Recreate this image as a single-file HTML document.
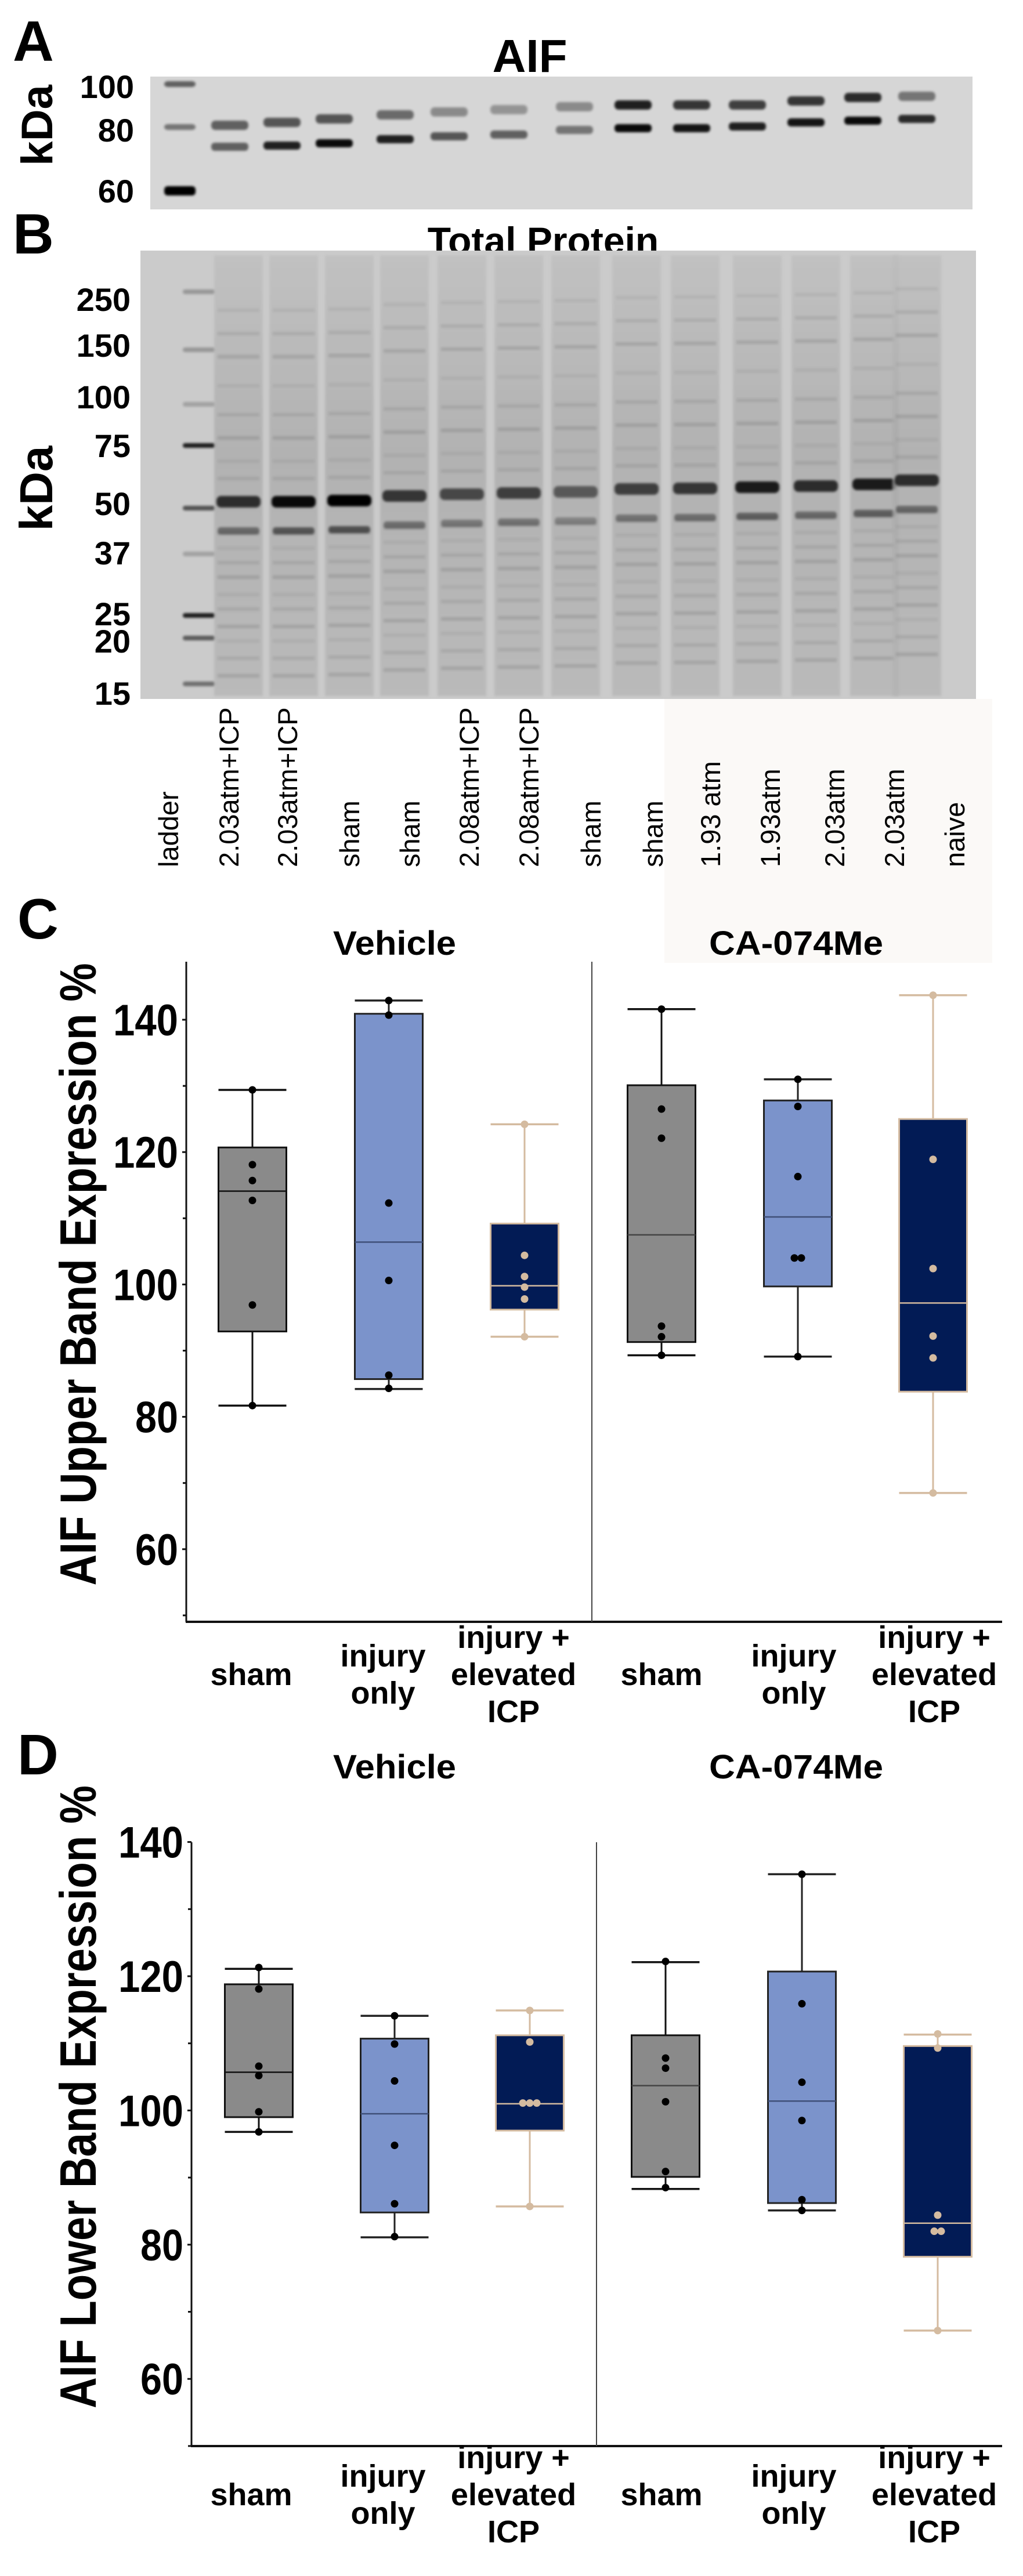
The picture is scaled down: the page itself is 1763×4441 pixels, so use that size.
<!DOCTYPE html>
<html><head><meta charset="utf-8">
<style>
html,body{margin:0;padding:0;background:#fff;}
svg{display:block;}
text{font-family:"Liberation Sans",Arial,sans-serif;}
</style></head>
<body>
<svg id="fig" width="1763" height="4441" viewBox="0 0 1763 4441" xmlns="http://www.w3.org/2000/svg">
<defs>
<filter id="blur3" x="-20%" y="-200%" width="140%" height="500%"><feGaussianBlur stdDeviation="4"/></filter>
<filter id="blur1" x="-20%" y="-200%" width="140%" height="500%"><feGaussianBlur stdDeviation="2"/></filter>
<linearGradient id="laneG" x1="0" y1="0" x2="0" y2="1">
<stop offset="0" stop-color="#bdbdbd"/><stop offset="0.45" stop-color="#a8a8a8"/><stop offset="1" stop-color="#b3b3b3"/></linearGradient>
</defs>
<rect x="0" y="0" width="1763" height="4441" fill="#fff"/>
<rect x="1145" y="1205" width="565" height="455" fill="#fbf9f7"/>

<text x="22" y="105" font-size="98" font-weight="bold">A</text>
<text x="913" y="124" font-size="80" font-weight="bold" text-anchor="middle">AIF</text>
<text transform="translate(90,216) rotate(-90)" font-size="76" font-weight="bold" text-anchor="middle">kDa</text>
<g id="blotA"></g>
<text x="231" y="169" font-size="56" font-weight="bold" text-anchor="end">100</text>
<text x="231" y="244" font-size="56" font-weight="bold" text-anchor="end">80</text>
<text x="231" y="349" font-size="56" font-weight="bold" text-anchor="end">60</text>

<text x="22" y="437" font-size="98" font-weight="bold">B</text>
<text x="936" y="438" font-size="66" font-weight="bold" text-anchor="middle">Total Protein</text>
<g id="blotB"></g>
<text transform="translate(90,842) rotate(-90)" font-size="80" font-weight="bold" text-anchor="middle">kDa</text>
<g id="blotBMarkers"></g>
<g id="laneLabels"></g>

<g id="chartC"></g>
<g id="chartD"></g>
</svg>

<script>
const categories = ['sham', 'injury only', 'injury + elevated ICP', 'sham', 'injury only', 'injury + elevated ICP'];
const groupHeaders = ['Vehicle', 'CA-074Me'];
const tickValues = [60, 80, 100, 120, 140];
const tickLabels = ['60', '80', '100', '120', '140'];
const minorTickValues = [50, 70, 90, 110, 130];

const cUpperWhisker = [129.4, 142.9, 124.2, 141.6, 131.0, 143.7];
const cQ3 = [120.7, 140.9, 109.2, 130.1, 127.8, 125.0];
const cMedian = [114.1, 106.4, 99.8, 107.5, 110.2, 97.2];
const cQ1 = [92.9, 85.7, 96.2, 91.3, 99.7, 83.8];
const cLowerWhisker = [81.7, 84.2, 92.1, 89.3, 89.1, 68.5];
const cPoints = [
  [129.4, 118.1, 115.7, 112.7, 96.9, 81.7],
  [142.9, 140.7, 112.3, 100.6, 86.3, 84.3],
  [124.2, 104.4, 101.2, 99.6, 97.8, 92.1],
  [141.6, 126.5, 122.1, 93.7, 92.1, 89.3],
  [131.0, 126.9, 116.3, 104.0, 104.0, 89.1],
  [143.7, 118.9, 102.4, 92.2, 88.9, 68.5]
];

const dUpperWhisker = [121.1, 114.1, 114.9, 122.1, 135.2, 111.3];
const dQ3 = [118.8, 110.7, 111.2, 111.2, 120.7, 109.6];
const dMedian = [105.7, 99.5, 101.0, 103.7, 101.4, 83.2];
const dQ1 = [99.0, 84.8, 97.0, 90.1, 86.2, 78.2];
const dLowerWhisker = [96.8, 81.1, 85.7, 88.3, 85.1, 67.2];
const dPoints = [
  [121.3, 118.1, 106.6, 105.2, 99.8, 96.8],
  [114.1, 109.9, 104.4, 94.8, 86.1, 81.2],
  [114.9, 110.2, 101.1, 101.1, 101.1, 85.7],
  [122.2, 107.8, 106.3, 101.3, 90.9, 88.5],
  [135.2, 115.9, 104.2, 98.5, 86.7, 85.1],
  [111.4, 109.3, 84.4, 82.0, 82.0, 67.2]
];

const NS = 'http://www.w3.org/2000/svg';
function mk(tag, attrs, parent) {
  const e = document.createElementNS(NS, tag);
  for (const k in attrs) e.setAttribute(k, attrs[k]);
  parent.appendChild(e);
  return e;
}
const fills = ['#8a8a8a', '#7b93cb', '#021b55', '#8a8a8a', '#7b93cb', '#021b55'];
const strokes = ['#111', '#222', '#d4bba0', '#111', '#222', '#d4bba0'];
const medianCols = ['#111', '#3f4f78', '#d4bba0', '#444', '#3f4f78', '#d4bba0'];
const dotCols = ['#000', '#000', '#d4bba0', '#000', '#000', '#d4bba0'];
const boxW = 117;

function drawChart(g, cfg) {
  const y = v => cfg.y0 + (cfg.v0 - v) * cfg.k;
  const xC = i => cfg.xs[i];
  let t = mk('text', {x: cfg.labelX, y: cfg.labelY, 'font-size': 98, 'font-weight': 'bold'}, g);
  
  
  t.textContent = cfg.label;
  groupHeaders.forEach((h, i) => {
    const e = mk('text', {x: cfg.headerX[i], y: cfg.headerY, 'font-size': 58, 'font-weight': 'bold', 'text-anchor': 'middle', textLength: i === 0 ? 212 : 300, lengthAdjust: 'spacingAndGlyphs'}, g);
    
    
    e.textContent = h;
  });
  const yt = mk('text', {transform: 'translate(' + cfg.titleX + ',' + cfg.titleY + ') rotate(-90)', 'font-size': 88, 'font-weight': 'bold', 'text-anchor': 'middle', textLength: cfg.titleLen, lengthAdjust: 'spacingAndGlyphs'}, g);
  
  
  yt.textContent = cfg.title;
  const ax = mk('line', {x1: cfg.axisX, x2: cfg.axisX, y1: cfg.axisTop, y2: cfg.axisBottom, stroke: '#111', 'stroke-width': 3}, g);
  
  
  const xa = mk('line', {x1: cfg.axisX - 1, x2: 1727, y1: cfg.axisBottom, y2: cfg.axisBottom, stroke: '#111', 'stroke-width': 4}, g);
  
  
  const dv = mk('line', {x1: cfg.divX, x2: cfg.divX, y1: cfg.axisTop, y2: cfg.axisBottom, stroke: '#444', 'stroke-width': 2}, g);
  
  
  tickValues.forEach((v, i) => {
    const tk = mk('line', {x1: cfg.axisX - 7, x2: cfg.axisX, y1: y(v), y2: y(v), stroke: '#111', 'stroke-width': 3}, g);
    
    
    const tl = mk('text', {x: cfg.axisX - 14, y: y(v) + 27, 'font-size': 76, 'font-weight': 'bold', 'text-anchor': 'end', textLength: tickLabels[i].length === 3 ? 112 : 74, lengthAdjust: 'spacingAndGlyphs'}, g);
    
    
    tl.textContent = tickLabels[i];
  });
  minorTickValues.forEach(v => {
    const tk = mk('line', {x1: cfg.axisX - 6, x2: cfg.axisX, y1: y(v), y2: y(v), stroke: '#111', 'stroke-width': 3}, g);
    
    
  });
  for (let i = 0; i < 6; i++) {
    const bg = mk('g', {}, g);
    
    
    const cx = xC(i), st = strokes[i];
    const hi = cfg.uw[i], lo = cfg.lw[i];
    mk('line', {x1: cx, x2: cx, y1: y(hi), y2: y(lo), stroke: st, 'stroke-width': 3}, bg);
    mk('line', {x1: cx - boxW / 2, x2: cx + boxW / 2, y1: y(hi), y2: y(hi), stroke: st, 'stroke-width': 3.5}, bg);
    mk('line', {x1: cx - boxW / 2, x2: cx + boxW / 2, y1: y(lo), y2: y(lo), stroke: st, 'stroke-width': 3.5}, bg);
    mk('rect', {x: cx - boxW / 2, y: y(cfg.q3[i]), width: boxW, height: y(cfg.q1[i]) - y(cfg.q3[i]), fill: fills[i], stroke: st, 'stroke-width': 3}, bg);
    mk('line', {x1: cx - boxW / 2, x2: cx + boxW / 2, y1: y(cfg.med[i]), y2: y(cfg.med[i]), stroke: medianCols[i], 'stroke-width': 2.5}, bg);
    const pts = cfg.pts[i];
    pts.forEach((v, j) => {
      const same = pts.filter(w => Math.abs(w - v) < 0.6);
      const idx = pts.slice(0, j).filter(w => Math.abs(w - v) < 0.6).length;
      const off = (idx - (same.length - 1) / 2) * 12;
      const d = mk('circle', {cx: cx + off, cy: y(v), r: 6.5, fill: dotCols[i]}, bg);
      
      
    });
  }
  categories.forEach((c, i) => {
    const lines = c === 'sham' ? ['sham'] : c === 'injury only' ? ['injury', 'only'] : ['injury +', 'elevated', 'ICP'];
    const startY = lines.length === 1 ? cfg.catY : lines.length === 2 ? cfg.catY - 32 : cfg.catY - 64;
    const tx = mk('text', {x: cfg.catX[i], y: startY + 19, 'font-size': 54, 'font-weight': 'bold', 'text-anchor': 'middle'}, g);
    
    
    lines.forEach((l, k) => {
      const ts = mk('tspan', {x: cfg.catX[i], dy: k === 0 ? 0 : 64}, tx);
      ts.textContent = l;
    });
  });
}

drawChart(document.getElementById('chartC'), {
  label: 'C', labelX: 30, labelY: 1618, headerX: [680, 1372], headerY: 1646,
  title: 'AIF Upper Band Expression %', titleX: 165, titleY: 2197, titleLen: 1073,
  axisX: 321, axisTop: 1658, axisBottom: 2796, divX: 1020,
  y0: 1758, v0: 140, k: 11.41,
  xs: [435, 670, 904, 1140, 1375, 1608],
  catX: [433, 660, 885, 1140, 1368, 1610], catY: 2886,
  uw: cUpperWhisker, q3: cQ3, med: cMedian, q1: cQ1, lw: cLowerWhisker, pts: cPoints
});
drawChart(document.getElementById('chartD'), {
  label: 'D', labelX: 30, labelY: 3059, headerX: [680, 1372], headerY: 3066,
  title: 'AIF Lower Band Expression %', titleX: 165, titleY: 3615, titleLen: 1074,
  axisX: 330, axisTop: 3176, axisBottom: 4217, divX: 1028,
  y0: 3407, v0: 120, k: 11.57,
  xs: [446, 680, 913, 1147, 1382, 1616],
  catX: [433, 660, 885, 1140, 1368, 1610], catY: 4300,
  uw: dUpperWhisker, q3: dQ3, med: dMedian, q1: dQ1, lw: dLowerWhisker, pts: dPoints
});

const blotALaneX = [396, 486, 576, 681, 774, 877, 990, 1091, 1192, 1288, 1389, 1487, 1580];
const blotAUpperY = [216, 211, 205, 198, 193, 189, 184, 181, 181, 181, 174, 168, 166];
const blotALowerY = [253, 251, 247, 240, 235, 232, 224, 221, 221, 218, 211, 208, 205];
const blotAUpperI = [0.55, 0.6, 0.6, 0.5, 0.35, 0.3, 0.35, 0.85, 0.75, 0.7, 0.75, 0.8, 0.45];
const blotALowerI = [0.55, 0.85, 0.95, 0.85, 0.6, 0.55, 0.45, 0.95, 0.9, 0.85, 0.9, 0.95, 0.8];
(function () {
  const g = document.getElementById('blotA');
  mk('rect', {x: 259, y: 132, width: 1417, height: 229, fill: '#d6d6d6'}, g);
  [[145, 0.55, 10], [219, 0.45, 10], [329, 1, 16]].forEach(b => {
    mk('rect', {x: 283, y: b[0] - b[2] / 2, width: 54, height: b[2], rx: 6, fill: '#000', opacity: b[1], filter: 'url(#blur1)'}, g);
  });
  blotALaneX.forEach((x, i) => {
    const l = mk('g', {}, g);
    
    
    mk('rect', {x: x - 32, y: blotAUpperY[i] - 8, width: 64, height: 16, rx: 7, fill: '#000', opacity: blotAUpperI[i], filter: 'url(#blur1)'}, l);
    mk('rect', {x: x - 32, y: blotALowerY[i] - 7, width: 64, height: 14, rx: 6, fill: '#000', opacity: blotALowerI[i], filter: 'url(#blur1)'}, l);
  });
})();

const blotBLaneX = [411, 506, 602, 697, 796, 894, 992, 1097, 1198, 1305, 1406, 1507, 1580];
const blotBMainY = [865, 865, 863, 855, 852, 850, 848, 843, 842, 840, 838, 835, 828];
const blotBMainI = [0.75, 0.95, 1, 0.7, 0.6, 0.65, 0.5, 0.65, 0.7, 0.85, 0.75, 0.85, 0.75];
const markerLabels = ['250', '150', '100', '75', '50', '37', '25', '20', '15'];
const markerY = [516, 595, 684, 768, 868, 953, 1058, 1105, 1195];
const ladderBandY = [503, 603, 697, 768, 876, 955, 1061, 1100, 1179];
const ladderBandI = [0.25, 0.25, 0.2, 0.85, 0.6, 0.2, 0.85, 0.55, 0.45];
(function () {
  const g = document.getElementById('blotB');
  mk('rect', {x: 242, y: 432, width: 1440, height: 773, fill: '#cbcbcb'}, g);
  ladderBandY.forEach((y, i) => {
    mk('rect', {x: 315, y: y - 4, width: 56, height: 8, rx: 4, fill: '#000', opacity: ladderBandI[i], filter: 'url(#blur1)'}, g);
  });
  const minorOffsets = [-330, -290, -250, -200, -150, -110, -70, -40, 55, 80, 105, 130, 160, 185, 215, 240, 270, 300];
  blotBLaneX.forEach((x, i) => {
    const l = mk('g', {}, g);
    
    
    mk('rect', {x: x - 42, y: 440, width: 84, height: 760, fill: 'url(#laneG)', opacity: 0.7, filter: 'url(#blur1)'}, l);
    const my = blotBMainY[i];
    mk('rect', {x: x - 38, y: my - 10, width: 76, height: 20, rx: 8, fill: '#000', opacity: blotBMainI[i], filter: 'url(#blur1)'}, l);
    mk('rect', {x: x - 36, y: my + 44, width: 72, height: 12, rx: 5, fill: '#000', opacity: blotBMainI[i] * 0.55, filter: 'url(#blur1)'}, l);
    minorOffsets.forEach((o, k) => {
      mk('rect', {x: x - 36, y: my + o - 3, width: 72, height: 6, fill: '#000', opacity: 0.05 + (k % 3) * 0.03, filter: 'url(#blur1)'}, l);
    });
  });
  const m = document.getElementById('blotBMarkers');
  markerLabels.forEach((lab, i) => {
    const t = mk('text', {x: 225, y: markerY[i] + 20, 'font-size': 56, 'font-weight': 'bold', 'text-anchor': 'end'}, m);
    
    
    t.textContent = lab;
  });
  const laneNames = ['ladder', '2.03atm+ICP', '2.03atm+ICP', 'sham', 'sham', '2.08atm+ICP', '2.08atm+ICP', 'sham', 'sham', '1.93 atm', '1.93atm', '2.03atm', '2.03atm', 'naive'];
  const laneTextX = [290, 394, 495, 602, 706, 808, 911, 1018, 1125, 1224, 1327, 1438, 1541, 1645];
  const ll = document.getElementById('laneLabels');
  laneNames.forEach((n, i) => {
    const t = mk('text', {transform: 'translate(' + (laneTextX[i] + 17) + ',1495) rotate(-90)', 'font-size': 47}, ll);
    
    
    t.textContent = n;
  });
})();
</script>
</body></html>
